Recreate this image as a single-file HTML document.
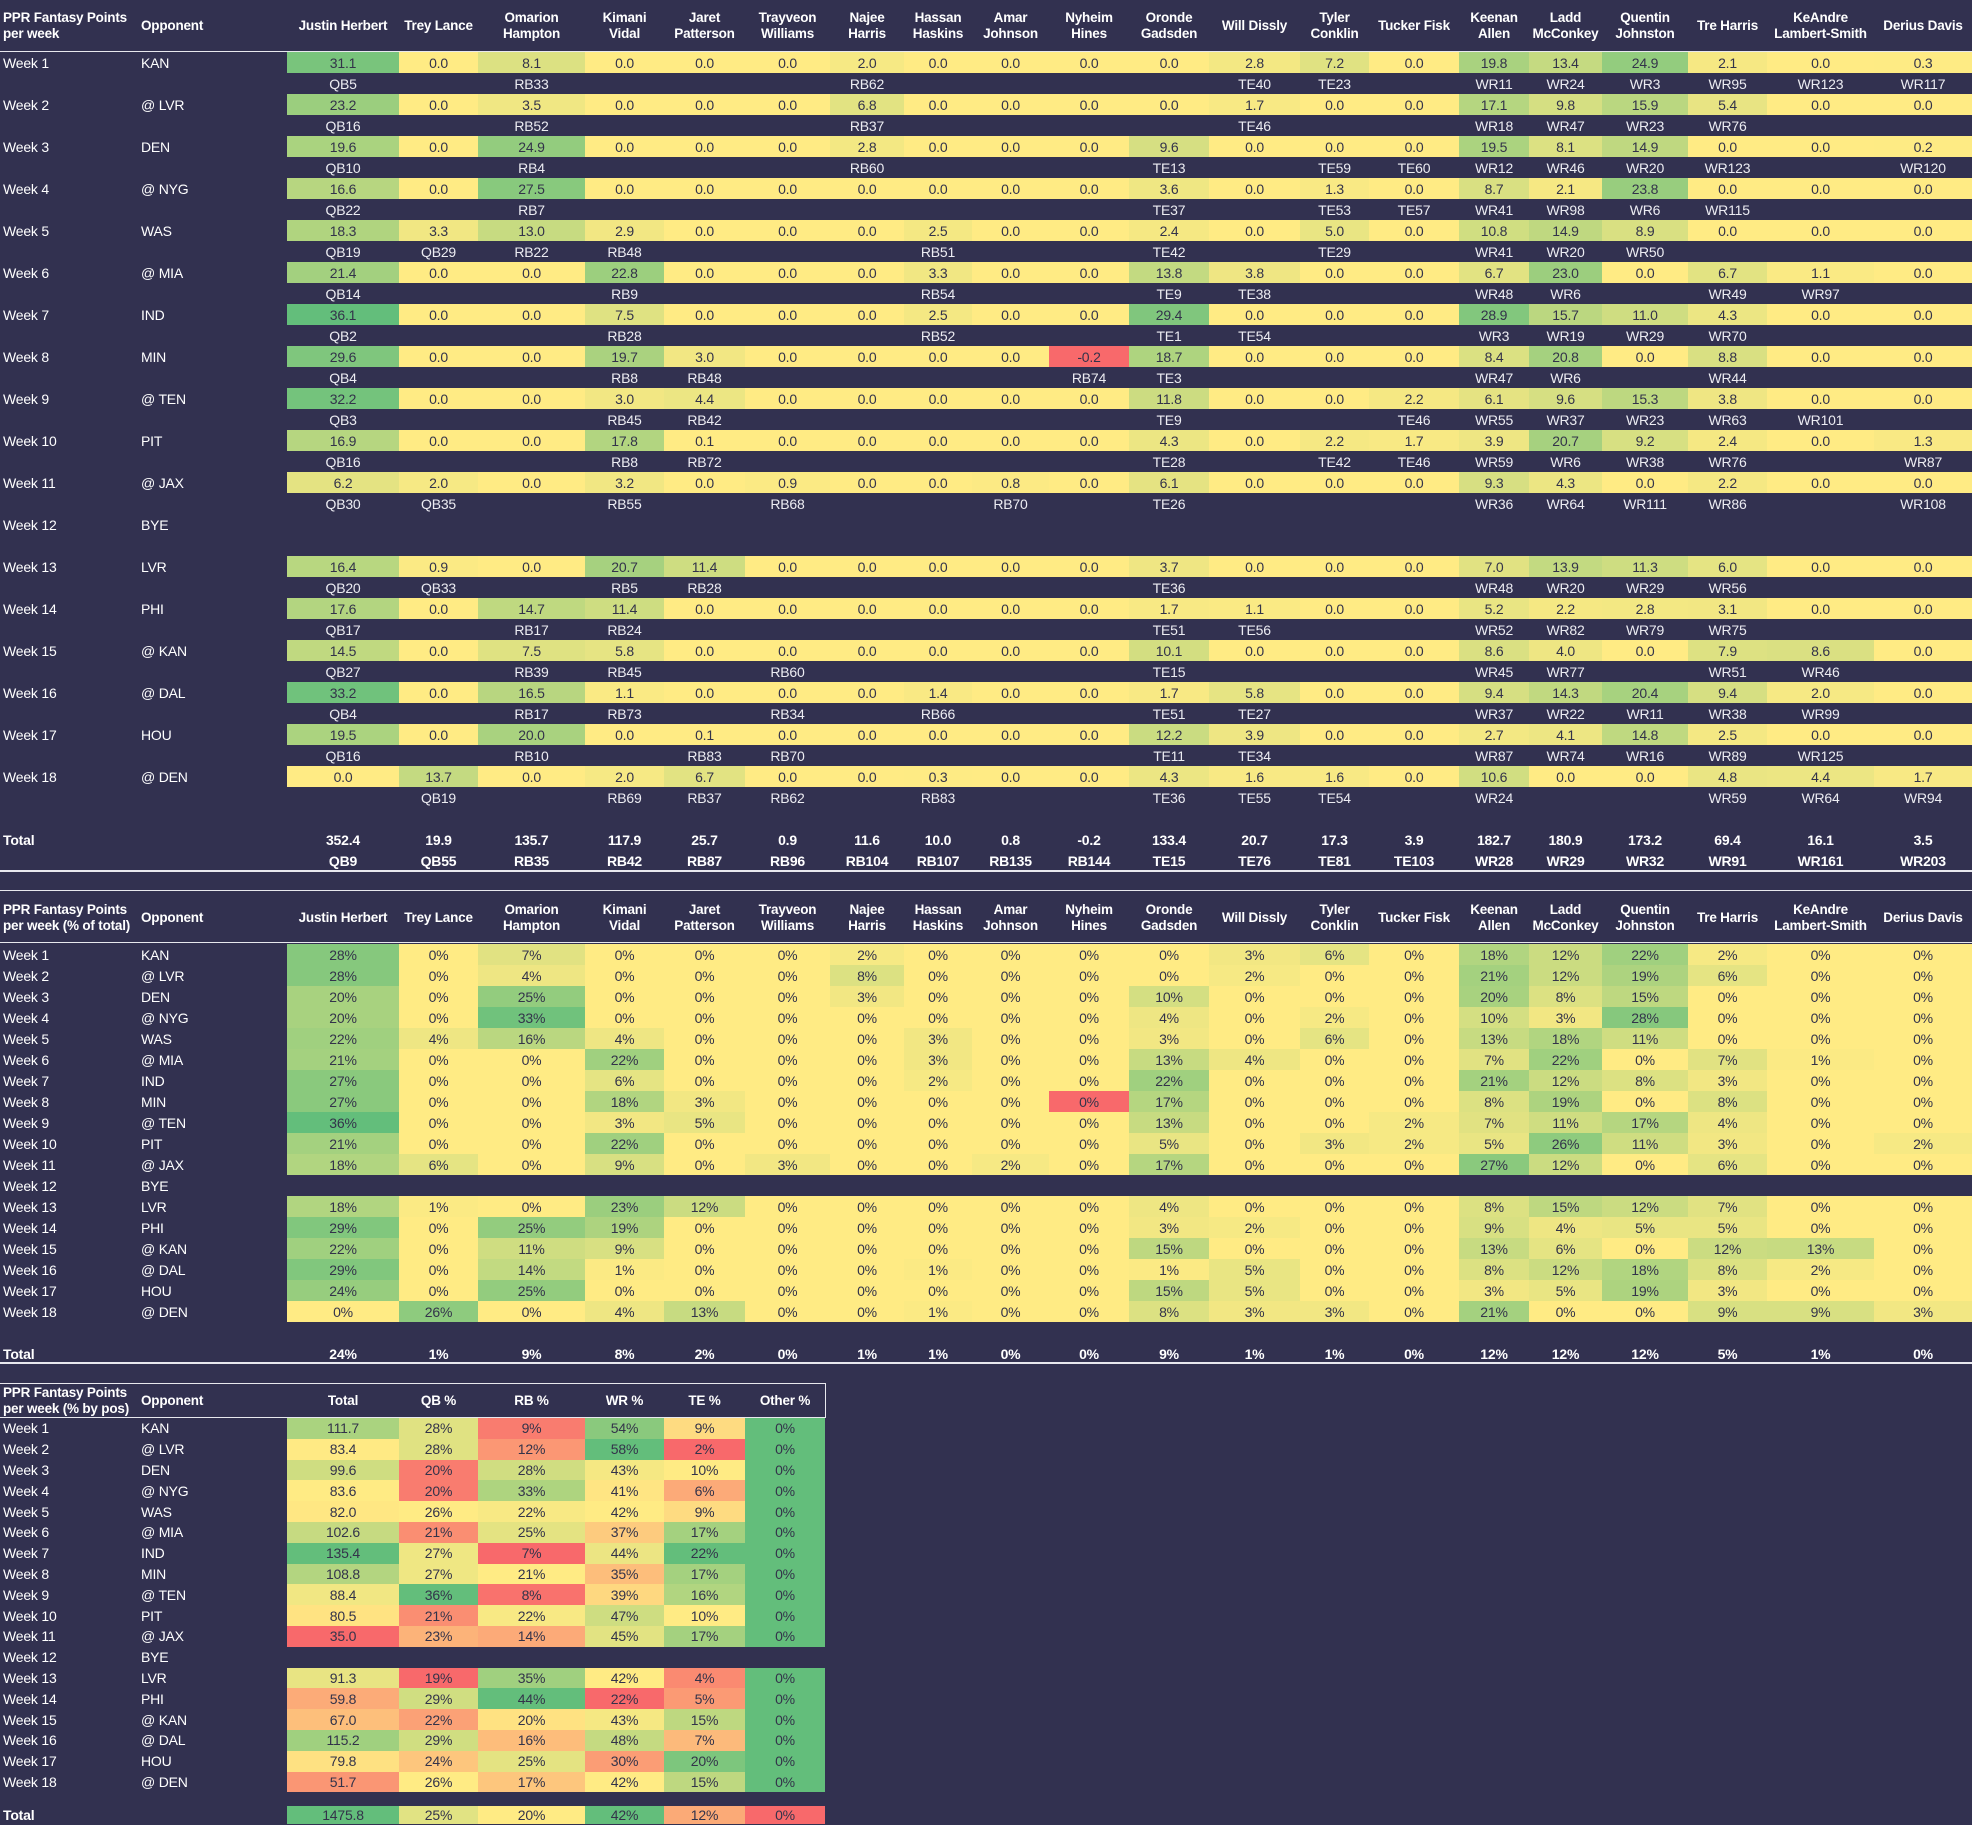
<!DOCTYPE html>
<html><head><meta charset="utf-8">
<style>
html,body{margin:0;padding:0;background:#323150;width:1972px;height:1825px;overflow:hidden;position:relative;font-family:"Liberation Sans Narrow","Liberation Sans",sans-serif;}
table{position:absolute;left:0;border-collapse:collapse;table-layout:fixed;font-size:14px;color:#fff;letter-spacing:-0.2px;}
td{padding:0;text-align:center;white-space:nowrap;overflow:hidden;}
td:nth-child(1),td:nth-child(2){text-align:left;padding-left:3px;}
tr.h td{font-weight:bold;line-height:16px;white-space:normal;font-size:13.5px;}
tr.h td:first-child{white-space:nowrap;}
#t1 tr, #t2 tr{height:21px;}
tr.v td:nth-child(n+3), tr.p td:nth-child(n+3), tr.c td:nth-child(n+3){color:#33334a;}
tr.r td{color:#ececf2;}
tr.t td{font-weight:bold;}
#t3 tr.c{height:20.8px;}
.ln{position:absolute;background:#e8e8ee;height:2px;}
</style></head><body>
<table id="t1" style="top:0;width:1972px">
<colgroup><col style="width:138px"><col style="width:149px"><col style="width:112px"><col style="width:79px"><col style="width:107px"><col style="width:79px"><col style="width:81px"><col style="width:85px"><col style="width:74px"><col style="width:68px"><col style="width:77px"><col style="width:80px"><col style="width:80px"><col style="width:91px"><col style="width:69px"><col style="width:90px"><col style="width:70px"><col style="width:73px"><col style="width:86px"><col style="width:79px"><col style="width:107px"><col style="width:98px"></colgroup>
<tr class="h" style="height:52px"><td>PPR Fantasy Points<br>per week<td>Opponent<td>Justin Herbert<td>Trey Lance<td>Omarion Hampton<td>Kimani<br>Vidal<td>Jaret Patterson<td>Trayveon Williams<td>Najee Harris<td>Hassan Haskins<td>Amar Johnson<td>Nyheim Hines<td>Oronde Gadsden<td>Will Dissly<td>Tyler Conklin<td>Tucker Fisk<td>Keenan Allen<td>Ladd McConkey<td>Quentin Johnston<td>Tre Harris<td>KeAndre Lambert-Smith<td>Derius Davis</tr>
<tr class="v"><td>Week 1<td>KAN<td>31.1<td>0.0<td>8.1<td>0.0<td>0.0<td>0.0<td>2.0<td>0.0<td>0.0<td>0.0<td>0.0<td>2.8<td>7.2<td>0.0<td>19.8<td>13.4<td>24.9<td>2.1<td>0.0<td>0.3</tr>
<tr class="r"><td><td><td>QB5<td><td>RB33<td><td><td><td>RB62<td><td><td><td><td>TE40<td>TE23<td><td>WR11<td>WR24<td>WR3<td>WR95<td>WR123<td>WR117</tr>
<tr class="v"><td>Week 2<td>@ LVR<td>23.2<td>0.0<td>3.5<td>0.0<td>0.0<td>0.0<td>6.8<td>0.0<td>0.0<td>0.0<td>0.0<td>1.7<td>0.0<td>0.0<td>17.1<td>9.8<td>15.9<td>5.4<td>0.0<td>0.0</tr>
<tr class="r"><td><td><td>QB16<td><td>RB52<td><td><td><td>RB37<td><td><td><td><td>TE46<td><td><td>WR18<td>WR47<td>WR23<td>WR76<td><td></tr>
<tr class="v"><td>Week 3<td>DEN<td>19.6<td>0.0<td>24.9<td>0.0<td>0.0<td>0.0<td>2.8<td>0.0<td>0.0<td>0.0<td>9.6<td>0.0<td>0.0<td>0.0<td>19.5<td>8.1<td>14.9<td>0.0<td>0.0<td>0.2</tr>
<tr class="r"><td><td><td>QB10<td><td>RB4<td><td><td><td>RB60<td><td><td><td>TE13<td><td>TE59<td>TE60<td>WR12<td>WR46<td>WR20<td>WR123<td><td>WR120</tr>
<tr class="v"><td>Week 4<td>@ NYG<td>16.6<td>0.0<td>27.5<td>0.0<td>0.0<td>0.0<td>0.0<td>0.0<td>0.0<td>0.0<td>3.6<td>0.0<td>1.3<td>0.0<td>8.7<td>2.1<td>23.8<td>0.0<td>0.0<td>0.0</tr>
<tr class="r"><td><td><td>QB22<td><td>RB7<td><td><td><td><td><td><td><td>TE37<td><td>TE53<td>TE57<td>WR41<td>WR98<td>WR6<td>WR115<td><td></tr>
<tr class="v"><td>Week 5<td>WAS<td>18.3<td>3.3<td>13.0<td>2.9<td>0.0<td>0.0<td>0.0<td>2.5<td>0.0<td>0.0<td>2.4<td>0.0<td>5.0<td>0.0<td>10.8<td>14.9<td>8.9<td>0.0<td>0.0<td>0.0</tr>
<tr class="r"><td><td><td>QB19<td>QB29<td>RB22<td>RB48<td><td><td><td>RB51<td><td><td>TE42<td><td>TE29<td><td>WR41<td>WR20<td>WR50<td><td><td></tr>
<tr class="v"><td>Week 6<td>@ MIA<td>21.4<td>0.0<td>0.0<td>22.8<td>0.0<td>0.0<td>0.0<td>3.3<td>0.0<td>0.0<td>13.8<td>3.8<td>0.0<td>0.0<td>6.7<td>23.0<td>0.0<td>6.7<td>1.1<td>0.0</tr>
<tr class="r"><td><td><td>QB14<td><td><td>RB9<td><td><td><td>RB54<td><td><td>TE9<td>TE38<td><td><td>WR48<td>WR6<td><td>WR49<td>WR97<td></tr>
<tr class="v"><td>Week 7<td>IND<td>36.1<td>0.0<td>0.0<td>7.5<td>0.0<td>0.0<td>0.0<td>2.5<td>0.0<td>0.0<td>29.4<td>0.0<td>0.0<td>0.0<td>28.9<td>15.7<td>11.0<td>4.3<td>0.0<td>0.0</tr>
<tr class="r"><td><td><td>QB2<td><td><td>RB28<td><td><td><td>RB52<td><td><td>TE1<td>TE54<td><td><td>WR3<td>WR19<td>WR29<td>WR70<td><td></tr>
<tr class="v"><td>Week 8<td>MIN<td>29.6<td>0.0<td>0.0<td>19.7<td>3.0<td>0.0<td>0.0<td>0.0<td>0.0<td>-0.2<td>18.7<td>0.0<td>0.0<td>0.0<td>8.4<td>20.8<td>0.0<td>8.8<td>0.0<td>0.0</tr>
<tr class="r"><td><td><td>QB4<td><td><td>RB8<td>RB48<td><td><td><td><td>RB74<td>TE3<td><td><td><td>WR47<td>WR6<td><td>WR44<td><td></tr>
<tr class="v"><td>Week 9<td>@ TEN<td>32.2<td>0.0<td>0.0<td>3.0<td>4.4<td>0.0<td>0.0<td>0.0<td>0.0<td>0.0<td>11.8<td>0.0<td>0.0<td>2.2<td>6.1<td>9.6<td>15.3<td>3.8<td>0.0<td>0.0</tr>
<tr class="r"><td><td><td>QB3<td><td><td>RB45<td>RB42<td><td><td><td><td><td>TE9<td><td><td>TE46<td>WR55<td>WR37<td>WR23<td>WR63<td>WR101<td></tr>
<tr class="v"><td>Week 10<td>PIT<td>16.9<td>0.0<td>0.0<td>17.8<td>0.1<td>0.0<td>0.0<td>0.0<td>0.0<td>0.0<td>4.3<td>0.0<td>2.2<td>1.7<td>3.9<td>20.7<td>9.2<td>2.4<td>0.0<td>1.3</tr>
<tr class="r"><td><td><td>QB16<td><td><td>RB8<td>RB72<td><td><td><td><td><td>TE28<td><td>TE42<td>TE46<td>WR59<td>WR6<td>WR38<td>WR76<td><td>WR87</tr>
<tr class="v"><td>Week 11<td>@ JAX<td>6.2<td>2.0<td>0.0<td>3.2<td>0.0<td>0.9<td>0.0<td>0.0<td>0.8<td>0.0<td>6.1<td>0.0<td>0.0<td>0.0<td>9.3<td>4.3<td>0.0<td>2.2<td>0.0<td>0.0</tr>
<tr class="r"><td><td><td>QB30<td>QB35<td><td>RB55<td><td>RB68<td><td><td>RB70<td><td>TE26<td><td><td><td>WR36<td>WR64<td>WR111<td>WR86<td><td>WR108</tr>
<tr class="b"><td>Week 12<td>BYE<td><td><td><td><td><td><td><td><td><td><td><td><td><td><td><td><td><td><td><td></tr>
<tr class="r"><td><td><td><td><td><td><td><td><td><td><td><td><td><td><td><td><td><td><td><td><td><td></tr>
<tr class="v"><td>Week 13<td>LVR<td>16.4<td>0.9<td>0.0<td>20.7<td>11.4<td>0.0<td>0.0<td>0.0<td>0.0<td>0.0<td>3.7<td>0.0<td>0.0<td>0.0<td>7.0<td>13.9<td>11.3<td>6.0<td>0.0<td>0.0</tr>
<tr class="r"><td><td><td>QB20<td>QB33<td><td>RB5<td>RB28<td><td><td><td><td><td>TE36<td><td><td><td>WR48<td>WR20<td>WR29<td>WR56<td><td></tr>
<tr class="v"><td>Week 14<td>PHI<td>17.6<td>0.0<td>14.7<td>11.4<td>0.0<td>0.0<td>0.0<td>0.0<td>0.0<td>0.0<td>1.7<td>1.1<td>0.0<td>0.0<td>5.2<td>2.2<td>2.8<td>3.1<td>0.0<td>0.0</tr>
<tr class="r"><td><td><td>QB17<td><td>RB17<td>RB24<td><td><td><td><td><td><td>TE51<td>TE56<td><td><td>WR52<td>WR82<td>WR79<td>WR75<td><td></tr>
<tr class="v"><td>Week 15<td>@ KAN<td>14.5<td>0.0<td>7.5<td>5.8<td>0.0<td>0.0<td>0.0<td>0.0<td>0.0<td>0.0<td>10.1<td>0.0<td>0.0<td>0.0<td>8.6<td>4.0<td>0.0<td>7.9<td>8.6<td>0.0</tr>
<tr class="r"><td><td><td>QB27<td><td>RB39<td>RB45<td><td>RB60<td><td><td><td><td>TE15<td><td><td><td>WR45<td>WR77<td><td>WR51<td>WR46<td></tr>
<tr class="v"><td>Week 16<td>@ DAL<td>33.2<td>0.0<td>16.5<td>1.1<td>0.0<td>0.0<td>0.0<td>1.4<td>0.0<td>0.0<td>1.7<td>5.8<td>0.0<td>0.0<td>9.4<td>14.3<td>20.4<td>9.4<td>2.0<td>0.0</tr>
<tr class="r"><td><td><td>QB4<td><td>RB17<td>RB73<td><td>RB34<td><td>RB66<td><td><td>TE51<td>TE27<td><td><td>WR37<td>WR22<td>WR11<td>WR38<td>WR99<td></tr>
<tr class="v"><td>Week 17<td>HOU<td>19.5<td>0.0<td>20.0<td>0.0<td>0.1<td>0.0<td>0.0<td>0.0<td>0.0<td>0.0<td>12.2<td>3.9<td>0.0<td>0.0<td>2.7<td>4.1<td>14.8<td>2.5<td>0.0<td>0.0</tr>
<tr class="r"><td><td><td>QB16<td><td>RB10<td><td>RB83<td>RB70<td><td><td><td><td>TE11<td>TE34<td><td><td>WR87<td>WR74<td>WR16<td>WR89<td>WR125<td></tr>
<tr class="v"><td>Week 18<td>@ DEN<td>0.0<td>13.7<td>0.0<td>2.0<td>6.7<td>0.0<td>0.0<td>0.3<td>0.0<td>0.0<td>4.3<td>1.6<td>1.6<td>0.0<td>10.6<td>0.0<td>0.0<td>4.8<td>4.4<td>1.7</tr>
<tr class="r"><td><td><td><td>QB19<td><td>RB69<td>RB37<td>RB62<td><td>RB83<td><td><td>TE36<td>TE55<td>TE54<td><td>WR24<td><td><td>WR59<td>WR64<td>WR94</tr>
<tr><td><td><td><td><td><td><td><td><td><td><td><td><td><td><td><td><td><td><td><td><td><td></tr>
<tr class="t"><td>Total<td><td>352.4<td>19.9<td>135.7<td>117.9<td>25.7<td>0.9<td>11.6<td>10.0<td>0.8<td>-0.2<td>133.4<td>20.7<td>17.3<td>3.9<td>182.7<td>180.9<td>173.2<td>69.4<td>16.1<td>3.5</tr>
<tr class="t"><td><td><td>QB9<td>QB55<td>RB35<td>RB42<td>RB87<td>RB96<td>RB104<td>RB107<td>RB135<td>RB144<td>TE15<td>TE76<td>TE81<td>TE103<td>WR28<td>WR29<td>WR32<td>WR91<td>WR161<td>WR203</tr>
</table>
<div class="ln" style="top:51px;left:0;width:1972px;height:1px"></div>
<div class="ln" style="top:870px;left:0;width:1972px"></div>
<div class="ln" style="top:890px;left:0;width:1972px;height:1px"></div>

<table id="t2" style="top:891px;width:1972px">
<colgroup><col style="width:138px"><col style="width:149px"><col style="width:112px"><col style="width:79px"><col style="width:107px"><col style="width:79px"><col style="width:81px"><col style="width:85px"><col style="width:74px"><col style="width:68px"><col style="width:77px"><col style="width:80px"><col style="width:80px"><col style="width:91px"><col style="width:69px"><col style="width:90px"><col style="width:70px"><col style="width:73px"><col style="width:86px"><col style="width:79px"><col style="width:107px"><col style="width:98px"></colgroup>
<tr class="h" style="height:53px"><td>PPR Fantasy Points<br>per week (% of total)<td>Opponent<td>Justin Herbert<td>Trey Lance<td>Omarion Hampton<td>Kimani<br>Vidal<td>Jaret Patterson<td>Trayveon Williams<td>Najee Harris<td>Hassan Haskins<td>Amar Johnson<td>Nyheim Hines<td>Oronde Gadsden<td>Will Dissly<td>Tyler Conklin<td>Tucker Fisk<td>Keenan Allen<td>Ladd McConkey<td>Quentin Johnston<td>Tre Harris<td>KeAndre Lambert-Smith<td>Derius Davis</tr>
<tr class="p"><td>Week 1<td>KAN<td>28%<td>0%<td>7%<td>0%<td>0%<td>0%<td>2%<td>0%<td>0%<td>0%<td>0%<td>3%<td>6%<td>0%<td>18%<td>12%<td>22%<td>2%<td>0%<td>0%</tr>
<tr class="p"><td>Week 2<td>@ LVR<td>28%<td>0%<td>4%<td>0%<td>0%<td>0%<td>8%<td>0%<td>0%<td>0%<td>0%<td>2%<td>0%<td>0%<td>21%<td>12%<td>19%<td>6%<td>0%<td>0%</tr>
<tr class="p"><td>Week 3<td>DEN<td>20%<td>0%<td>25%<td>0%<td>0%<td>0%<td>3%<td>0%<td>0%<td>0%<td>10%<td>0%<td>0%<td>0%<td>20%<td>8%<td>15%<td>0%<td>0%<td>0%</tr>
<tr class="p"><td>Week 4<td>@ NYG<td>20%<td>0%<td>33%<td>0%<td>0%<td>0%<td>0%<td>0%<td>0%<td>0%<td>4%<td>0%<td>2%<td>0%<td>10%<td>3%<td>28%<td>0%<td>0%<td>0%</tr>
<tr class="p"><td>Week 5<td>WAS<td>22%<td>4%<td>16%<td>4%<td>0%<td>0%<td>0%<td>3%<td>0%<td>0%<td>3%<td>0%<td>6%<td>0%<td>13%<td>18%<td>11%<td>0%<td>0%<td>0%</tr>
<tr class="p"><td>Week 6<td>@ MIA<td>21%<td>0%<td>0%<td>22%<td>0%<td>0%<td>0%<td>3%<td>0%<td>0%<td>13%<td>4%<td>0%<td>0%<td>7%<td>22%<td>0%<td>7%<td>1%<td>0%</tr>
<tr class="p"><td>Week 7<td>IND<td>27%<td>0%<td>0%<td>6%<td>0%<td>0%<td>0%<td>2%<td>0%<td>0%<td>22%<td>0%<td>0%<td>0%<td>21%<td>12%<td>8%<td>3%<td>0%<td>0%</tr>
<tr class="p"><td>Week 8<td>MIN<td>27%<td>0%<td>0%<td>18%<td>3%<td>0%<td>0%<td>0%<td>0%<td class="neg">0%<td>17%<td>0%<td>0%<td>0%<td>8%<td>19%<td>0%<td>8%<td>0%<td>0%</tr>
<tr class="p"><td>Week 9<td>@ TEN<td>36%<td>0%<td>0%<td>3%<td>5%<td>0%<td>0%<td>0%<td>0%<td>0%<td>13%<td>0%<td>0%<td>2%<td>7%<td>11%<td>17%<td>4%<td>0%<td>0%</tr>
<tr class="p"><td>Week 10<td>PIT<td>21%<td>0%<td>0%<td>22%<td>0%<td>0%<td>0%<td>0%<td>0%<td>0%<td>5%<td>0%<td>3%<td>2%<td>5%<td>26%<td>11%<td>3%<td>0%<td>2%</tr>
<tr class="p"><td>Week 11<td>@ JAX<td>18%<td>6%<td>0%<td>9%<td>0%<td>3%<td>0%<td>0%<td>2%<td>0%<td>17%<td>0%<td>0%<td>0%<td>27%<td>12%<td>0%<td>6%<td>0%<td>0%</tr>
<tr><td>Week 12<td>BYE<td><td><td><td><td><td><td><td><td><td><td><td><td><td><td><td><td><td><td><td></tr>
<tr class="p"><td>Week 13<td>LVR<td>18%<td>1%<td>0%<td>23%<td>12%<td>0%<td>0%<td>0%<td>0%<td>0%<td>4%<td>0%<td>0%<td>0%<td>8%<td>15%<td>12%<td>7%<td>0%<td>0%</tr>
<tr class="p"><td>Week 14<td>PHI<td>29%<td>0%<td>25%<td>19%<td>0%<td>0%<td>0%<td>0%<td>0%<td>0%<td>3%<td>2%<td>0%<td>0%<td>9%<td>4%<td>5%<td>5%<td>0%<td>0%</tr>
<tr class="p"><td>Week 15<td>@ KAN<td>22%<td>0%<td>11%<td>9%<td>0%<td>0%<td>0%<td>0%<td>0%<td>0%<td>15%<td>0%<td>0%<td>0%<td>13%<td>6%<td>0%<td>12%<td>13%<td>0%</tr>
<tr class="p"><td>Week 16<td>@ DAL<td>29%<td>0%<td>14%<td>1%<td>0%<td>0%<td>0%<td>1%<td>0%<td>0%<td>1%<td>5%<td>0%<td>0%<td>8%<td>12%<td>18%<td>8%<td>2%<td>0%</tr>
<tr class="p"><td>Week 17<td>HOU<td>24%<td>0%<td>25%<td>0%<td>0%<td>0%<td>0%<td>0%<td>0%<td>0%<td>15%<td>5%<td>0%<td>0%<td>3%<td>5%<td>19%<td>3%<td>0%<td>0%</tr>
<tr class="p"><td>Week 18<td>@ DEN<td>0%<td>26%<td>0%<td>4%<td>13%<td>0%<td>0%<td>1%<td>0%<td>0%<td>8%<td>3%<td>3%<td>0%<td>21%<td>0%<td>0%<td>9%<td>9%<td>3%</tr>
<tr><td><td><td><td><td><td><td><td><td><td><td><td><td><td><td><td><td><td><td><td><td><td></tr>
<tr class="t"><td>Total<td><td>24%<td>1%<td>9%<td>8%<td>2%<td>0%<td>1%<td>1%<td>0%<td>0%<td>9%<td>1%<td>1%<td>0%<td>12%<td>12%<td>12%<td>5%<td>1%<td>0%</tr>
</table>
<div class="ln" style="top:942px;left:0;width:1972px;height:1px"></div>
<div class="ln" style="top:1362px;left:0;width:1972px"></div>

<table id="t3" style="top:1384px;width:825px">
<colgroup><col style="width:138px"><col style="width:149px"><col style="width:112px"><col style="width:79px"><col style="width:107px"><col style="width:79px"><col style="width:81px"><col style="width:80px"></colgroup>
<tr class="h" style="height:34px"><td>PPR Fantasy Points<br>per week (% by pos)<td>Opponent<td>Total<td>QB %<td>RB %<td>WR %<td>TE %<td>Other %</tr>
<tr class="c"><td>Week 1<td>KAN<td>111.7<td>28%<td>9%<td>54%<td>9%<td>0%</tr>
<tr class="c"><td>Week 2<td>@ LVR<td>83.4<td>28%<td>12%<td>58%<td>2%<td>0%</tr>
<tr class="c"><td>Week 3<td>DEN<td>99.6<td>20%<td>28%<td>43%<td>10%<td>0%</tr>
<tr class="c"><td>Week 4<td>@ NYG<td>83.6<td>20%<td>33%<td>41%<td>6%<td>0%</tr>
<tr class="c"><td>Week 5<td>WAS<td>82.0<td>26%<td>22%<td>42%<td>9%<td>0%</tr>
<tr class="c"><td>Week 6<td>@ MIA<td>102.6<td>21%<td>25%<td>37%<td>17%<td>0%</tr>
<tr class="c"><td>Week 7<td>IND<td>135.4<td>27%<td>7%<td>44%<td>22%<td>0%</tr>
<tr class="c"><td>Week 8<td>MIN<td>108.8<td>27%<td>21%<td>35%<td>17%<td>0%</tr>
<tr class="c"><td>Week 9<td>@ TEN<td>88.4<td>36%<td>8%<td>39%<td>16%<td>0%</tr>
<tr class="c"><td>Week 10<td>PIT<td>80.5<td>21%<td>22%<td>47%<td>10%<td>0%</tr>
<tr class="c"><td>Week 11<td>@ JAX<td>35.0<td>23%<td>14%<td>45%<td>17%<td>0%</tr>
<tr class="c bye"><td>Week 12<td>BYE<td><td><td><td><td><td></tr>
<tr class="c"><td>Week 13<td>LVR<td>91.3<td>19%<td>35%<td>42%<td>4%<td>0%</tr>
<tr class="c"><td>Week 14<td>PHI<td>59.8<td>29%<td>44%<td>22%<td>5%<td>0%</tr>
<tr class="c"><td>Week 15<td>@ KAN<td>67.0<td>22%<td>20%<td>43%<td>15%<td>0%</tr>
<tr class="c"><td>Week 16<td>@ DAL<td>115.2<td>29%<td>16%<td>48%<td>7%<td>0%</tr>
<tr class="c"><td>Week 17<td>HOU<td>79.8<td>24%<td>25%<td>30%<td>20%<td>0%</tr>
<tr class="c"><td>Week 18<td>@ DEN<td>51.7<td>26%<td>17%<td>42%<td>15%<td>0%</tr>
<tr style="height:14px"><td><td><td><td><td><td><td><td></tr>
<tr class="t" style="height:18px"><td>Total<td><td style="background:#63be7b;color:#33334a;font-weight:normal">1475.8<td style="background:#e1e383;color:#33334a;font-weight:normal">25%<td style="background:#ffeb84;color:#33334a;font-weight:normal">20%<td style="background:#63be7b;color:#33334a;font-weight:normal">42%<td style="background:#fbaa77;color:#33334a;font-weight:normal">12%<td style="background:#f8696b;color:#33334a;font-weight:normal">0%</tr>
</table>
<div class="ln" style="top:1383px;left:0;width:826px;height:1px"></div>
<div class="ln" style="top:1417px;left:0;width:826px;height:1px"></div>
<div class="ln" style="top:1383px;left:825px;width:1px;height:34px"></div>

<script>
var R=[248,105,107],Y=[255,235,132],G=[99,190,123];
function mix(a,b,t){t=Math.max(0,Math.min(1,t));return 'rgb('+a.map(function(v,i){return Math.round(v+(b[i]-v)*t)}).join(',')+')';}
function col(v,mn,md,mx){if(mx===mn)return mix(Y,G,1);if(v>=md)return mx===md?mix(Y,G,1):mix(Y,G,(v-md)/(mx-md));return mix(Y,R,(md-v)/(md-mn));}
document.querySelectorAll('#t1 tr.v').forEach(function(tr){
  [].slice.call(tr.cells,2).forEach(function(td){var v=parseFloat(td.textContent);td.style.background=v<0?mix(Y,R,1):mix(Y,G,v/36.1);});
});
document.querySelectorAll('#t2 tr.p').forEach(function(tr){
  [].slice.call(tr.cells,2).forEach(function(td){var v=parseFloat(td.textContent);td.style.background=td.className=='neg'?mix(Y,R,1):mix(Y,G,v/36);});
});
var rows=[].slice.call(document.querySelectorAll('#t3 tr.c')).filter(function(r){return r.className.indexOf('bye')<0;});
for(var k=2;k<8;k++){
  var vals=rows.map(function(r){return parseFloat(r.cells[k].textContent);});
  var s=vals.slice().sort(function(a,b){return a-b;});
  var mn=s[0],mx=s[s.length-1],md=s[Math.floor(s.length/2)];
  rows.forEach(function(r,i){r.cells[k].style.background=col(vals[i],mn,md,mx);});
}
</script>
</body></html>
